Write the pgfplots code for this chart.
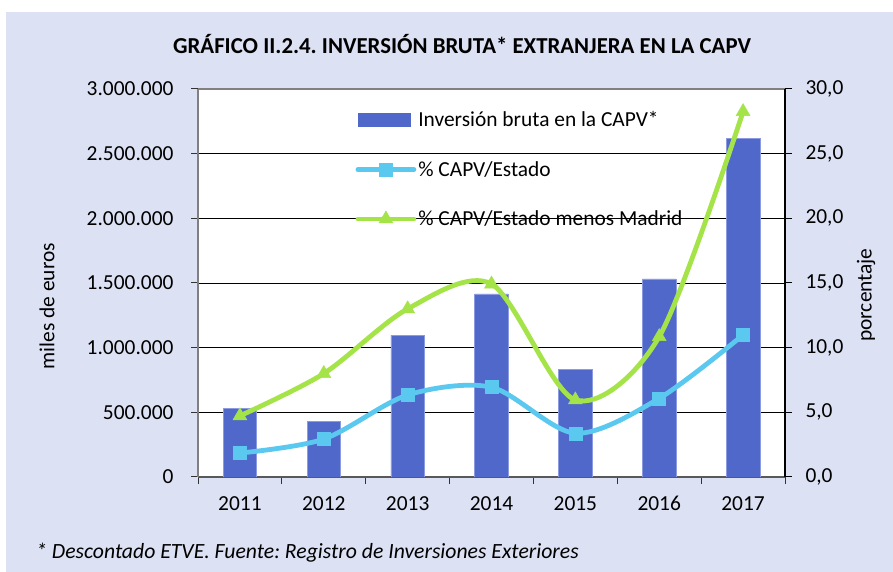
\documentclass[border=0pt]{standalone}
\usepackage{fontspec}
\setmainfont{Carlito}
\usepackage{pgfplots}
\pgfplotsset{compat=1.18}
\definecolor{bg}{RGB}{220,225,243}
\definecolor{barc}{RGB}{79,104,201}
\definecolor{baredge}{RGB}{140,155,225}
\definecolor{bluel}{RGB}{91,200,240}
\definecolor{greenl}{RGB}{165,228,72}
\newcommand{\fs}{\fontsize{21.4}{25}\selectfont}
\frenchspacing
\begin{document}
\frenchspacing
\begin{tikzpicture}
\useasboundingbox (0pt,0pt) rectangle (893pt,572pt);
\fill[bg] (6pt,0pt) rectangle (893pt,560pt);
\node[font=\fontsize{22.8}{26}\selectfont\bfseries, anchor=base] at (462pt,518pt) {GRÁFICO II.2.4. INVERSIÓN BRUTA* EXTRANJERA EN LA CAPV};
\node[font=\fontsize{21.7}{25}\selectfont\itshape, anchor=base west, inner sep=0] at (36pt,13pt) {* Descontado ETVE. Fuente: Registro de Inversiones Exteriores};

\begin{axis}[
 at={(198pt,95pt)}, anchor=south west, width=587pt, height=388pt, scale only axis,
 xmin=-0.5, xmax=6.5, ymin=0, ymax=3000000,
 axis background/.style={fill=white},
 xtick={-0.5,0.5,1.5,2.5,3.5,4.5,5.5,6.5}, x tick label as interval,
 xticklabels={2011,2012,2013,2014,2015,2016,2017},
 ytick={0,500000,1000000,1500000,2000000,2500000,3000000},
 yticklabels={0,500.000,1.000.000,1.500.000,2.000.000,2.500.000,3.000.000},
 scaled y ticks=false,
 ymajorgrids, grid style={black, line width=0.9pt},
 axis x line*=bottom, axis y line*=left,
 tick align=outside, major tick length=7pt,
 tick style={color=gray!40!black, line width=1pt},
 x axis line style={gray!70!black, line width=1.5pt},
 y axis line style={gray, line width=2pt},
 ticklabel style={font=\fs},
 yticklabel style={xshift=-14pt},
 xticklabel style={yshift=-9pt},
 ylabel={miles de euros},
 ylabel style={font=\fs, at={(axis description cs:-0.257,0.44)}, anchor=center},
]
\addplot[ybar, bar width=0.4, fill=barc, draw=baredge, line width=0.6pt] coordinates {
(0,531000) (1,431000) (2,1097000) (3,1415000) (4,832000) (5,1531000) (6,2619000)};
\end{axis}

\begin{axis}[
 at={(198pt,95pt)}, anchor=south west, width=587pt, height=388pt, scale only axis,
 xmin=-0.5, xmax=6.5, ymin=0, ymax=30,
 axis x line*=top, xtick=\empty,
 x axis line style={gray, line width=2pt},
 axis y line*=right,
 y axis line style={black, line width=1.2pt},
 ytick={0,5,10,15,20,25,30},
 yticklabels={{0,0},{5,0},{10,0},{15,0},{20,0},{25,0},{30,0}},
 tick align=outside, major tick length=7pt,
 tick style={color=black, line width=1pt},
 ticklabel style={font=\fs},
 yticklabel style={xshift=10pt},
 ylabel={porcentaje},
 ylabel style={font=\fs, at={(axis description cs:1.138,0.469)}, anchor=center},
 legend image code/.code={\draw[mark repeat=2,mark phase=2,#1] plot coordinates {(0pt,0pt) (28pt,0pt) (56pt,0pt)};},
 legend style={draw=none, fill=none, at={(axis description cs:0.268,0.947)}, anchor=north west,
   font=\fs, row sep=29pt, inner sep=0pt, nodes={inner xsep=2pt, inner ysep=2pt}},
 legend cell align=left,
]
\addlegendimage{legend image code/.code={\fill[barc] (0pt,-6.5pt) rectangle (52pt,6.5pt);}}
\addlegendentry{Inversión bruta en la CAPV*}
\addplot[bluel, line width=4.8pt, line cap=round, smooth, mark=square*, mark size=6.5pt, mark options={fill=bluel, draw=bluel, line width=0.5pt}] coordinates {
(0,1.85) (1,2.93) (2,6.34) (3,6.94) (4,3.38) (5,6.08) (6,10.98)};
\addlegendentry{\% CAPV/Estado}
\addplot[greenl, line width=4.8pt, line cap=round, smooth, mark=triangle*, mark size=8pt, mark options={fill=greenl, draw=greenl, line width=0.5pt}] coordinates {
(0,4.73) (1,8.0) (2,13.0) (3,14.92) (4,5.96) (5,10.85) (6,28.25)};
\addlegendentry{\% CAPV/Estado menos Madrid}
\end{axis}
\end{tikzpicture}
\end{document}
